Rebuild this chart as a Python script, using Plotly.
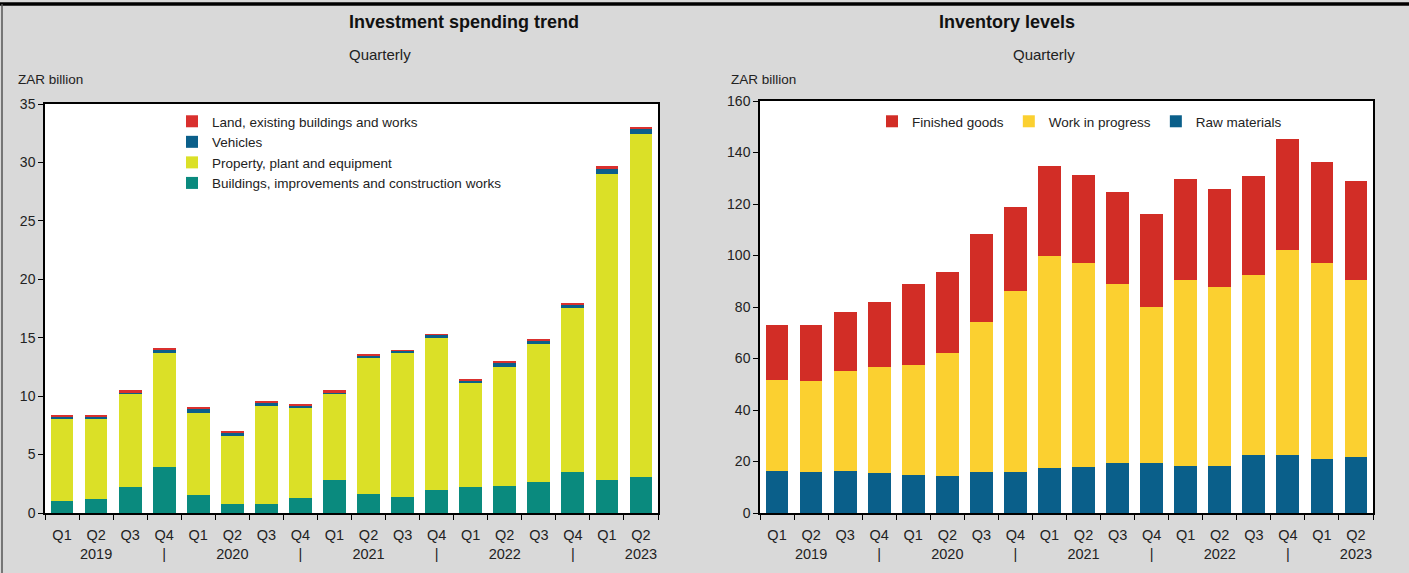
import plotly.graph_objects as go

W, H = 1409, 573

# ---- data ----
quarters = ["2019Q1","2019Q2","2019Q3","2019Q4","2020Q1","2020Q2","2020Q3","2020Q4",
            "2021Q1","2021Q2","2021Q3","2021Q4","2022Q1","2022Q2","2022Q3","2022Q4",
            "2023Q1","2023Q2"]
tick_labels = ["Q1","Q2<br>2019","Q3","Q4<br>|","Q1","Q2<br>2020","Q3","Q4<br>|",
               "Q1","Q2<br>2021","Q3","Q4<br>|","Q1","Q2<br>2022","Q3","Q4<br>|",
               "Q1","Q2<br>2023"]

# Investment spending (ZAR billion)
buildings = [1.0, 1.2, 2.2, 3.9, 1.5, 0.75, 0.75, 1.3, 2.85, 1.65, 1.4, 1.95, 2.2, 2.33, 2.64, 3.53, 2.84, 3.07]
property_pe = [7.1, 6.85, 7.95, 9.8, 7.1, 5.85, 8.4, 7.7, 7.3, 11.6, 12.25, 13.0, 8.98, 10.13, 11.8, 14.0, 26.2, 29.4]
vehicles = [0.17, 0.2, 0.2, 0.28, 0.35, 0.27, 0.3, 0.2, 0.2, 0.2, 0.22, 0.3, 0.17, 0.4, 0.3, 0.35, 0.37, 0.43]
land = [0.15, 0.1, 0.15, 0.15, 0.1, 0.13, 0.15, 0.15, 0.15, 0.1, 0.05, 0.05, 0.12, 0.1, 0.07, 0.12, 0.27, 0.17]

# Inventory levels (ZAR billion)
raw_materials = [16.4, 15.9, 16.4, 15.4, 14.9, 14.3, 15.9, 15.9, 17.3, 17.8, 19.4, 19.4, 18.4, 18.4, 22.4, 22.4, 20.9, 21.8]
work_in_progress = [35.3, 35.3, 38.8, 41.2, 42.7, 47.7, 58.2, 70.2, 82.7, 79.3, 69.6, 60.6, 72.1, 69.2, 70.0, 79.6, 76.2, 68.7]
finished_goods = [21.3, 21.8, 22.7, 25.3, 31.4, 31.4, 34.3, 32.8, 34.7, 34.2, 35.7, 36.3, 39.4, 38.2, 38.4, 43.3, 39.2, 38.5]

# ---- styling ----
FONT = "Liberation Sans Narrow, Arial Narrow, Liberation Sans, Arial, sans-serif"
BG = "#d9d9d9"

fig = go.Figure()

left_series = [
    ("Buildings, improvements and construction works", buildings, "#0a8a7e"),
    ("Property, plant and equipment", property_pe, "#dbe027"),
    ("Vehicles", vehicles, "#0b5f8a"),
    ("Land, existing buildings and works", land, "#d9302e"),
]
for name, vals, col in left_series:
    fig.add_trace(go.Bar(x=quarters, y=vals, name=name, marker=dict(color=col, line=dict(width=0)),
                         xaxis="x", yaxis="y", legend="legend"))

right_series = [
    ("Raw materials", raw_materials, "#0a5f8a"),
    ("Work in progress", work_in_progress, "#fbd030"),
    ("Finished goods", finished_goods, "#d22d26"),
]
for name, vals, col in right_series:
    fig.add_trace(go.Bar(x=quarters, y=vals, name=name, marker=dict(color=col, line=dict(width=0)),
                         xaxis="x2", yaxis="y2", legend="legend2"))

def px_x(p):
    return p / W

def px_y(p):
    return 1 - p / H

axis_common = dict(showline=True, linecolor="black", linewidth=1.5, mirror=True,
                   ticks="outside", ticklen=5, tickcolor="black", showgrid=False,
                   zeroline=False, automargin=False, tickangle=0)
xtick = dict(tickfont=dict(family=FONT, size=14.5, color="#222"), ticklabelstandoff=8)
ytick = dict(tickfont=dict(family=FONT, size=14, color="#222"))

fig.update_layout(
    width=W, height=H,
    margin=dict(l=0, r=0, t=0, b=0, pad=0),
    paper_bgcolor=BG, plot_bgcolor="white",
    barmode="stack", bargap=0.33,
    font=dict(family=FONT, color="#222"),
    showlegend=True,
    xaxis=dict(domain=[px_x(45), px_x(658)], anchor="y", type="category",
               tickvals=quarters, ticktext=tick_labels, tickson="boundaries", **axis_common, **xtick),
    yaxis=dict(domain=[px_y(513), px_y(104)], anchor="x", range=[0, 35], dtick=5, **axis_common, **ytick),
    xaxis2=dict(domain=[px_x(760), px_x(1373)], anchor="y2", type="category",
                tickvals=quarters, ticktext=tick_labels, tickson="boundaries", **axis_common, **xtick),
    yaxis2=dict(domain=[px_y(513), px_y(101)], anchor="x2", range=[0, 160], dtick=20, **axis_common, **ytick),
    legend=dict(x=px_x(172), y=px_y(106), xanchor="left", yanchor="top",
                orientation="v", traceorder="reversed", bgcolor="rgba(0,0,0,0)",
                font=dict(family=FONT, size=13.5, color="#222"), itemwidth=30,
                tracegroupgap=0),
    legend2=dict(x=px_x(872), y=px_y(106), xanchor="left", yanchor="top",
                 orientation="h", traceorder="reversed", bgcolor="rgba(0,0,0,0)",
                 font=dict(family=FONT, size=13.5, color="#222"), itemwidth=30),
    annotations=[
        dict(text="<b>Investment spending trend</b>", x=px_x(347), y=px_y(22), xref="paper", yref="paper",
             yanchor="middle", showarrow=False, font=dict(family=FONT, size=18, color="#111")),
        dict(text="Quarterly", x=px_x(347), y=px_y(55), xref="paper", yref="paper",
             yanchor="middle", showarrow=False, font=dict(family=FONT, size=15, color="#222")),
        dict(text="ZAR billion", x=px_x(16), y=px_y(79), xref="paper", yref="paper", xanchor="left",
             yanchor="middle", showarrow=False, font=dict(family=FONT, size=13.5, color="#222")),
        dict(text="<b>Inventory levels</b>", x=px_x(1077), y=px_y(22), xref="paper", yref="paper",
             yanchor="middle", showarrow=False, font=dict(family=FONT, size=18, color="#111")),
        dict(text="Quarterly", x=px_x(1077), y=px_y(55), xref="paper", yref="paper",
             yanchor="middle", showarrow=False, font=dict(family=FONT, size=15, color="#222")),
        dict(text="ZAR billion", x=px_x(729), y=px_y(79), xref="paper", yref="paper", xanchor="left",
             yanchor="middle", showarrow=False, font=dict(family=FONT, size=13.5, color="#222")),
    ],
    shapes=[
        dict(type="line", xref="paper", yref="paper", x0=0, x1=1, y0=px_y(4), y1=px_y(4),
             line=dict(color="black", width=3.5)),
        dict(type="line", xref="paper", yref="paper", x0=px_x(2), x1=px_x(2), y0=0, y1=px_y(4),
             line=dict(color="#555", width=1.5)),
    ],
)

fig.write_html("out.html", config={"displayModeBar": False},
               post_script="document.body.style.margin='0';document.body.style.overflow='hidden';")
